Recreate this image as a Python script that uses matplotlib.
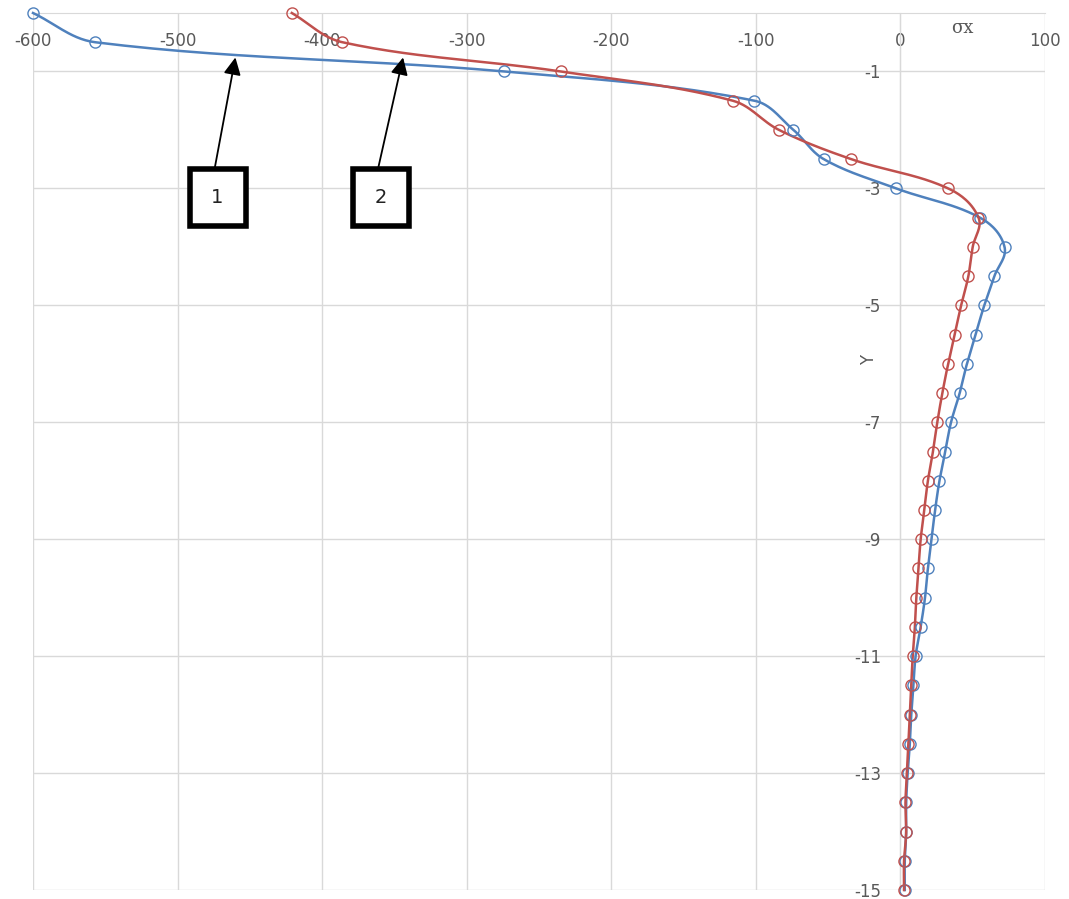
import numpy as np
import matplotlib
matplotlib.use("Agg")
import matplotlib.pyplot as plt
from matplotlib.patches import Rectangle

plt.rcParams["axes.unicode_minus"] = False

# depth levels and stress values for the two curves
y_levels = [0, -0.5, -1, -1.5, -2, -2.5, -3, -3.5, -4, -4.5, -5, -5.5, -6, -6.5,
            -7, -7.5, -8, -8.5, -9, -9.5, -10, -10.5, -11, -11.5, -12, -12.5,
            -13, -13.5, -14, -14.5, -15]
sigma_1 = [-600, -557, -274, -101, -74, -53, -3, 55, 72, 65, 58, 52, 46, 41,
           35, 31, 27, 24, 21.5, 19, 17, 14, 10.5, 9, 7.5, 6.5,
           5, 4, 4, 3, 3]
sigma_2 = [-421, -386, -235, -116, -84, -34, 33, 54, 50, 47, 42, 37.5, 33, 29,
           25.5, 22.5, 19, 16.5, 14, 12.5, 11, 10, 8.5, 7.5, 6.5, 5.5,
           4.5, 3.5, 4, 2.5, 2.5]

x_ticks = [-600, -500, -400, -300, -200, -100, 0, 100]
y_ticks = [-15, -13, -11, -9, -7, -5, -3, -1]

blue = "#4F81BD"
red = "#C0504D"
grid_col = "#D9D9D9"
label_col = "#595959"

fig = plt.figure(figsize=(10.69, 8.99), dpi=100)
ax = fig.add_axes([33 / 1069, 1 - 890 / 899, (1045 - 33) / 1069, (890 - 13) / 899])
ax.set_xlim(-600, 100)
ax.set_ylim(-15, 0)
ax.set_xticks(x_ticks)
ax.set_yticks(y_ticks)
ax.grid(True, color=grid_col, lw=1)
ax.set_axisbelow(True)

for s in ["top", "right"]:
    ax.spines[s].set_visible(False)
ax.spines["bottom"].set_position(("data", 0))
ax.spines["left"].set_position(("data", 0))
ax.spines["bottom"].set_color(grid_col)
ax.spines["left"].set_color(grid_col)
ax.tick_params(axis="both", length=0, labelsize=12, labelcolor=label_col)
ax.tick_params(axis="x", pad=14)
ax.tick_params(axis="y", pad=14)


def smooth(xs, ys, steps=30, k=0.35):
    # smooth bezier through the points, tangent handles scaled by segment length
    pts = ax.transData.transform(np.column_stack([xs, ys]))
    n = len(pts)
    tang = np.zeros_like(pts)
    for i in range(n):
        a = pts[max(i - 1, 0)]
        b = pts[min(i + 1, n - 1)]
        d = b - a
        tang[i] = d / (np.hypot(*d) or 1)
    out = []
    t = np.linspace(0, 1, steps)[:, None]
    for i in range(n - 1):
        p1, p2 = pts[i], pts[i + 1]
        L = np.hypot(*(p2 - p1))
        c1 = p1 + tang[i] * L * k
        c2 = p2 - tang[i + 1] * L * k
        seg = ((1 - t) ** 3) * p1 + 3 * ((1 - t) ** 2) * t * c1 \
            + 3 * (1 - t) * t ** 2 * c2 + t ** 3 * p2
        out.append(seg)
    curve = ax.transData.inverted().transform(np.vstack(out))
    return curve[:, 0], curve[:, 1]


for xs, col in [(sigma_1, blue), (sigma_2, red)]:
    cx, cy = smooth(xs, y_levels)
    ax.plot(cx, cy, color=col, lw=1.8, clip_on=False, zorder=3)
    ax.plot(xs, y_levels, ls="none", marker="o", ms=8, mfc="none",
            mec=col, mew=1.0, clip_on=False, zorder=4)

# axis titles
ax.text(-22, -5.94, "Y", rotation=90, ha="center", va="center",
        fontsize=12, color=label_col)
ax.text(43, -0.26, "σx", ha="center", va="center", fontsize=13,
        color=label_col, family="DejaVu Serif")

# numbered callouts
callouts = [("1", -491.7, -453.0, -460, -0.76),
            ("2", -379.0, -339.6, -344, -0.76)]
for txt, x0, x1, tip_x, tip_y in callouts:
    ax.add_patch(Rectangle((x0, -3.65), x1 - x0, 0.99, fc="white",
                           ec="black", lw=4, zorder=5))
    cx = (x0 + x1) / 2
    ax.text(cx, -3.15, txt, ha="center", va="center", fontsize=14,
            color="#222222", zorder=6)
    ax.annotate("", xy=(tip_x, tip_y), xytext=(cx - 2, -2.66),
                arrowprops=dict(arrowstyle="-|>", color="black", lw=1.3,
                                mutation_scale=26, shrinkA=0, shrinkB=0),
                zorder=6)

fig.savefig("out.png", dpi=100)
